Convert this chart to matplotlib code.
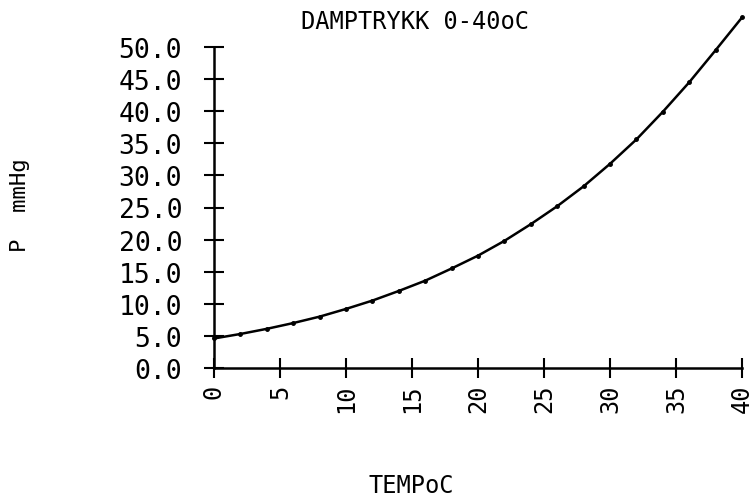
import matplotlib
matplotlib.use("Agg")
import matplotlib.pyplot as plt

# vapour pressure of water (points every 2 degrees)
temp = [0, 2, 4, 6, 8, 10, 12, 14, 16, 18, 20,
        22, 24, 26, 28, 30, 32, 34, 36, 38, 40]
pressure = [4.6, 5.3, 6.1, 7.0, 8.0, 9.2, 10.5, 12.0, 13.6, 15.5, 17.5,
            19.8, 22.4, 25.2, 28.3, 31.8, 35.6, 39.9, 44.5, 49.5, 54.6]

xticks = [0, 5, 10, 15, 20, 25, 30, 35, 40]
yticks = [0, 5, 10, 15, 20, 25, 30, 35, 40, 45, 50]

title = "DAMPTRYKK 0-40oC"
xlabel = "TEMPoC"
ylabel = "P  mmHg"

mono = "DejaVu Sans Mono"

fig = plt.figure(figsize=(7.55, 5.02), dpi=100)
ax = fig.add_axes([214 / 755, 133 / 502, 528 / 755, 321 / 502])

ax.plot(temp, pressure, color="black", lw=1.8, marker="o", ms=2.5,
        clip_on=False)

ax.set_xlim(0, 40)
ax.set_ylim(0, 50)
for s in ("top", "right"):
    ax.spines[s].set_visible(False)
for s in ("left", "bottom"):
    ax.spines[s].set_linewidth(1.8)

ax.set_xticks(xticks)
ax.set_xticklabels([str(v) for v in xticks], rotation=90,
                   family=mono, fontsize=17)
ax.set_yticks(yticks)
ax.set_yticklabels(["%.1f" % v for v in yticks], family=mono, fontsize=19)
ax.tick_params(direction="inout", length=14, width=1.5, color="black")
ax.tick_params(axis="y", pad=16)
ax.tick_params(axis="x", pad=4)

fig.text(415 / 755, 1 - 22 / 502, title, family=mono, fontsize=17,
         ha="center", va="center")
fig.text(411 / 755, 1 - 486 / 502, xlabel, family=mono, fontsize=17,
         ha="center", va="center")
fig.text(20 / 755, 1 - 205 / 502, ylabel, family=mono, fontsize=16,
         ha="center", va="center", rotation=90)

fig.savefig("out.png", dpi=100)
